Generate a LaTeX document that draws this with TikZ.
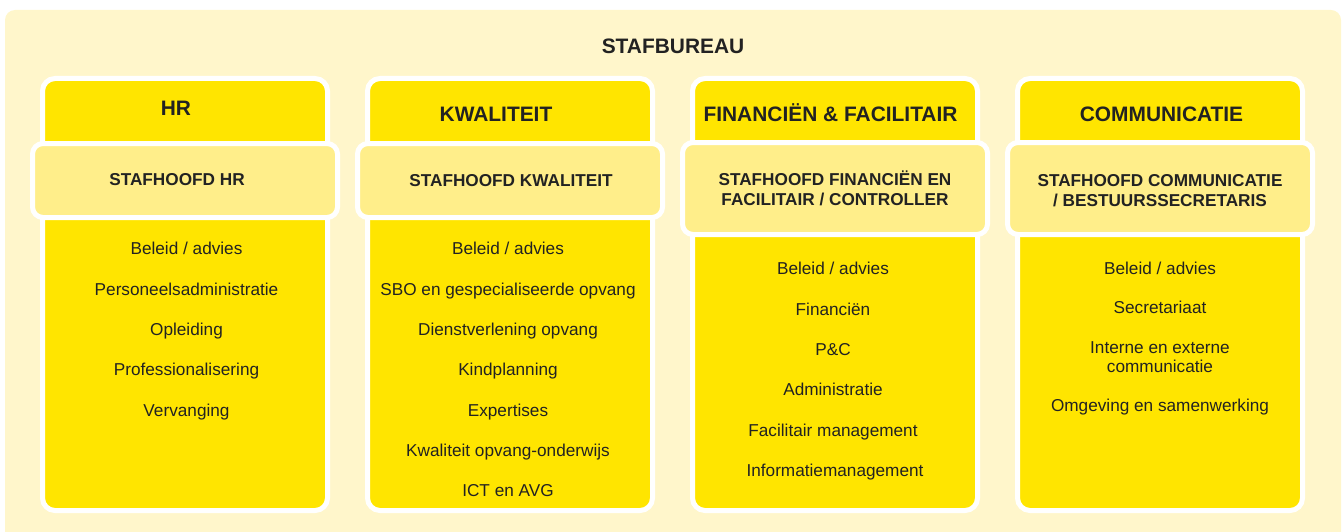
\documentclass[tikz,border=0pt]{standalone}
\usepackage{fontspec}
\setmainfont{Liberation Sans}
\definecolor{stafyellow}{HTML}{FFE500}
\definecolor{headyellow}{HTML}{FFEE8A}
\definecolor{bgcream}{HTML}{FFF6CB}
\definecolor{inktext}{HTML}{222222}
\begin{document}
\begin{tikzpicture}[x=1pt,y=1pt]
\tikzstyle{every node}+=[inner sep=0pt]
\tikzstyle{colbox}=[draw=white, line width=5pt, fill=stafyellow, rounded corners=12.5pt, minimum width=285pt, minimum height=432pt]
\tikzstyle{headbox}=[draw=white, line width=5pt, fill=headyellow, rounded corners=10.5pt, minimum width=305pt]
\tikzstyle{title}=[anchor=base, text=inktext, font=\bfseries\fontsize{20.9}{24}\selectfont]
\tikzstyle{head}=[anchor=base, text=inktext, align=center, font=\bfseries\fontsize{17.2}{20}\selectfont]
\tikzstyle{item}=[anchor=base, text=inktext, align=center, font=\fontsize{17.2}{19}\selectfont]
\useasboundingbox (0,0) rectangle (1343,-532);
\clip (0,0) rectangle (1343,-532);
\fill [bgcream, rounded corners=10pt] (5,-10) rectangle (1341,-560);
\node [title] (stafbureau) at (673,-54) {STAFBUREAU};
% kolommen
\node [colbox] (hr) at (185,-294.5) {};
\node [colbox] (kwal) at (510,-294.5) {};
\node [colbox] (fin) at (835,-294.5) {};
\node [colbox] (comm) at (1160,-294.5) {};
\node [headbox, minimum height=74pt] (hrHead) at (185,-180.5) {};
\node [headbox, minimum height=74pt] (kwalHead) at (510,-180.5) {};
\node [headbox, minimum height=92pt] (finHead) at (835,-188.5) {};
\node [headbox, minimum height=92pt] (commHead) at (1160,-188.5) {};
% titels
\node [title] (hrTitle) at (176,-115.5) {HR};
\node [title] (kwalTitle) at (496,-121.5) {KWALITEIT};
\node [title] (finTitle) at (830.5,-121.5) {FINANCIËN \& FACILITAIR};
\node [title] (commTitle) at (1161.5,-121.5) {COMMUNICATIE};
\node [head] (hrChef) at (177,-185.5) {STAFHOOFD HR};
\node [head] (kwalChef) at (511,-186.5) {STAFHOOFD KWALITEIT};
\node [head] (finChef) at (835,-205) {STAFHOOFD FINANCIËN EN\\FACILITAIR / CONTROLLER};
\node [head] (commChef) at (1160,-206) {STAFHOOFD COMMUNICATIE\\/ BESTUURSSECRETARIS};
% HR
\node [item] (hr1) at (186.5,-254) {Beleid / advies};
\node [item] (hr2) at (186.5,-295) {Personeelsadministratie};
\node [item] (hr3) at (186.5,-335) {Opleiding};
\node [item] (hr4) at (186.5,-375) {Professionalisering};
\node [item] (hr5) at (186.5,-416) {Vervanging};
% kwaliteit
\node [item] (kwal1) at (508,-254) {Beleid / advies};
\node [item] (kwal2) at (508,-295) {SBO en gespecialiseerde opvang};
\node [item] (kwal3) at (508,-335) {Dienstverlening opvang};
\node [item] (kwal4) at (508,-375) {Kindplanning};
\node [item] (kwal5) at (508,-416) {Expertises};
\node [item] (kwal6) at (508,-456) {Kwaliteit opvang-onderwijs};
\node [item] (kwal7) at (508,-496) {ICT en AVG};
% financien
\node [item] (fin1) at (833,-274) {Beleid / advies};
\node [item] (fin2) at (833,-315) {Financiën};
\node [item] (fin3) at (833,-355) {P\&C};
\node [item] (fin4) at (833,-395) {Administratie};
\node [item] (fin5) at (833,-436) {Facilitair management};
\node [item] (fin6) at (835,-476) {Informatiemanagement};
% communicatie
\node [item] (comm1) at (1160,-274) {Beleid / advies};
\node [item] (comm2) at (1160,-313) {Secretariaat};
\node [item] (comm3) at (1160,-372) {Interne en externe\\communicatie};
\node [item] (comm4) at (1160,-411.5) {Omgeving en samenwerking};
\end{tikzpicture}
\end{document}
